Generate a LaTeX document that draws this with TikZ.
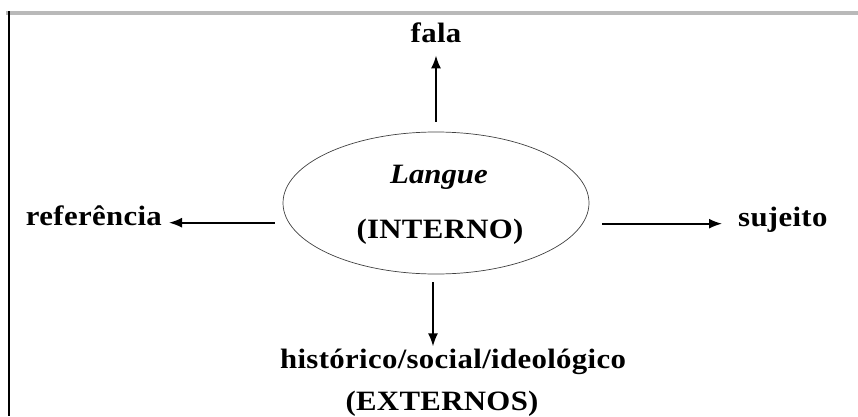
\documentclass[tikz,border=0pt]{standalone}
\usepackage{fontspec}
\setmainfont{Liberation Serif}
\usepackage{tikz}
\usetikzlibrary{arrows.meta, positioning, shapes.geometric}

\tikzset{
  lbl/.style={inner sep=0pt, font=\fontsize{28}{30}\selectfont\bfseries\addfontfeature{FakeStretch=1.1,LetterSpace=1.2}},
  seta/.style={-{Latex[length=13pt,width=10pt]}, line width=1.7pt}
}

\begin{document}
\begin{tikzpicture}[x=1pt,y=1pt]
\useasboundingbox (0,0) rectangle (858,416);
% moldura
\draw[gray!55, line width=3.5pt] (6,403) -- (858,403);
\draw[line width=1.6pt] (9,404.75) -- (9,0);
% centro
\node[draw=black!75, line width=0.7pt, ellipse, minimum width=306pt, minimum height=142pt] (langue) at (436,213) {};
\node[lbl, anchor=base, font=\fontsize{28}{30}\selectfont\bfseries\itshape\addfontfeature{FakeStretch=1.1}] (lng) at (439,233) {Langue};
\node[lbl, anchor=base] (interno) at (440,178) {(INTERNO)};
% extremos
\node[lbl, anchor=base] (fala) at (436,373) {fala};
\node[lbl, anchor=base east] (ref) at (162,191) {referência};
\node[lbl, anchor=base west] (suj) at (738,190) {sujeito};
\node[lbl, anchor=base] (hist) at (453,48) {histórico/social/ideológico};
\node[lbl, anchor=base] (ext) at (442,6) {(EXTERNOS)};
% setas
\draw[seta, shorten <=10pt, shorten >=12pt] (langue.north) -- (langue.north |- fala.south);
\draw[seta, shorten <=8pt, shorten >=7pt] (ref.mid east -| langue.west) -- (ref.mid east);
\draw[seta, shorten <=13pt, shorten >=16pt] (suj.mid west -| langue.east) -- (suj.mid west);
\draw[seta, shorten <=8pt, shorten >=2pt] ([xshift=-3pt]langue.south) -- ([xshift=-3pt]langue.south |- hist.north);
\end{tikzpicture}
\end{document}
